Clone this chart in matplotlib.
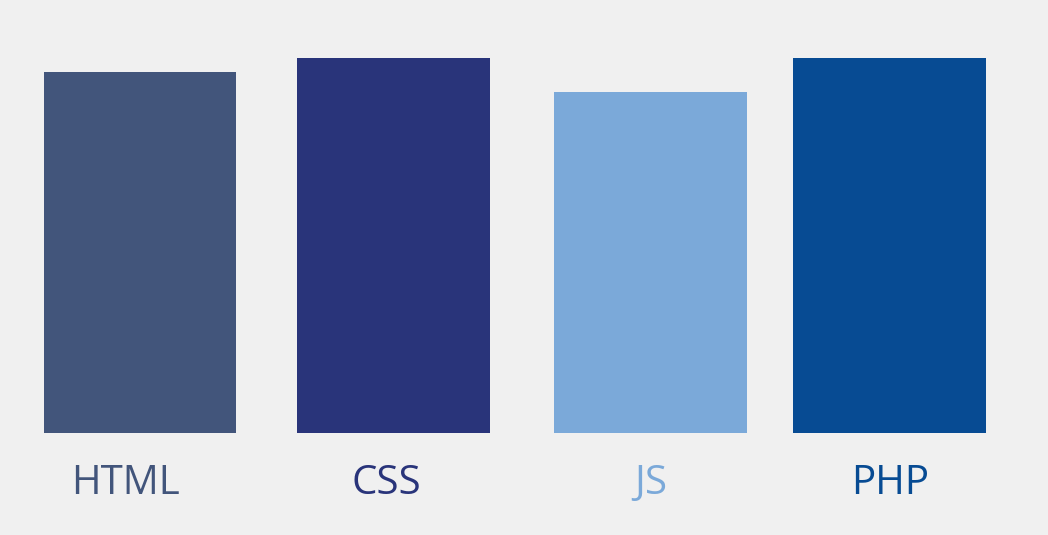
import matplotlib
matplotlib.use("Agg")
import matplotlib.pyplot as plt

categories = ["HTML", "CSS", "JS", "PHP"]
values = [96.3, 100, 91, 100]
colors = ["#42557b", "#29347a", "#7ba9d9", "#074b93"]

W, H = 1048, 535
# bar centers in pixels (the gaps in the original are not uniform)
centers_px = [140, 393.5, 650.5, 889.5]
label_shift_px = [-14, -7, 0, 1]
unit = 250.0

fig = plt.figure(figsize=(W / 100, H / 100), dpi=100)
fig.patch.set_facecolor("#f0f0f0")

# axes: bottom of bars at y=433px, tallest bar top at 58px
ax = fig.add_axes([0, (H - 433) / H, 1, (433 - 58) / H])
ax.set_facecolor("#f0f0f0")
x = [c / unit for c in centers_px]
ax.bar(x, values, width=193 / unit, color=colors)
ax.set_xlim(0, W / unit)
ax.set_ylim(0, 100)
ax.axis("off")

for xi, dx, cat, col in zip(x, label_shift_px, categories, colors):
    ax.text(xi + dx / unit, -16.3, cat, color=col, ha="center", va="baseline",
            fontsize=29, family="Open Sans", clip_on=False)

fig.savefig("out.png", dpi=100, facecolor=fig.get_facecolor())
